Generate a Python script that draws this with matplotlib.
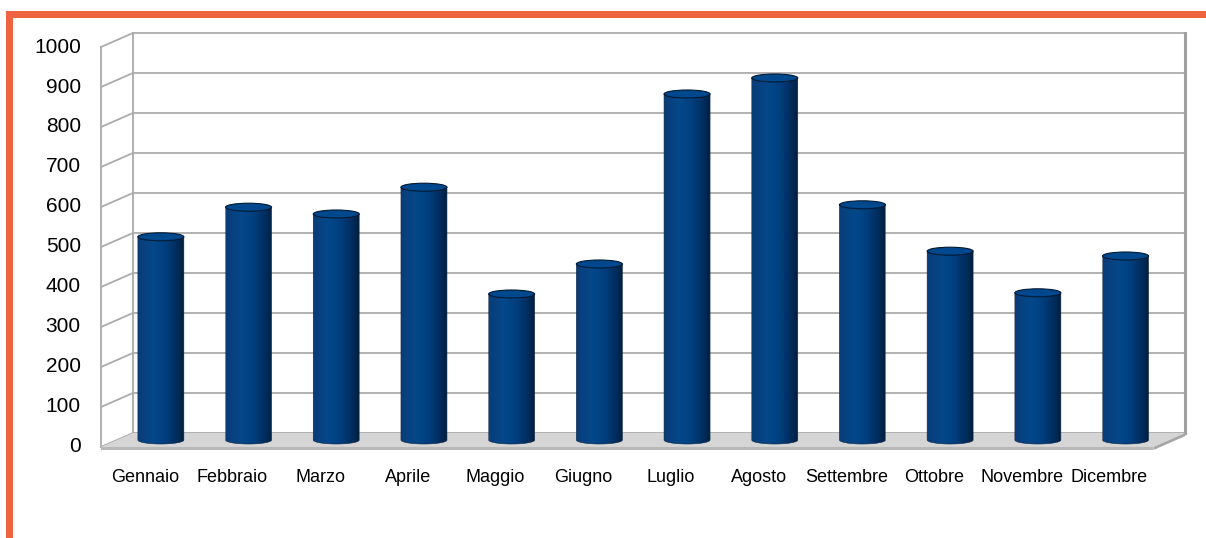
import numpy as np
import matplotlib.pyplot as plt
from matplotlib.patches import Polygon, Ellipse, Rectangle
from matplotlib.colors import LinearSegmentedColormap

mesi = ['Gennaio', 'Febbraio', 'Marzo', 'Aprile', 'Maggio', 'Giugno',
        'Luglio', 'Agosto', 'Settembre', 'Ottobre', 'Novembre', 'Dicembre']
valori = [508, 582, 565, 632, 365, 440, 865, 905, 588, 472, 368, 460]
tick_vals = list(range(0, 1001, 100))

plt.rcParams['font.family'] = ['Liberation Sans', 'DejaVu Sans']

W, H = 1206, 538
fig = plt.figure(figsize=(W / 100, H / 100), dpi=100)
fig.patch.set_facecolor('white')

# orange frame (top and left edge)
arancio = '#EE6440'
fig.add_artist(Rectangle((6 / W, 0), 6.5 / W, (H - 11) / H,
                         transform=fig.transFigure, color=arancio, lw=0))
fig.add_artist(Rectangle((6 / W, (H - 17.5) / H), (W - 6) / W, 6.5 / H,
                         transform=fig.transFigure, color=arancio, lw=0))

n = len(mesi)
px_cat = 87.7
ax = fig.add_axes([101 / W, 91 / H, n * px_cat / W, 400 / H])
ax.set_xlim(0, n)
ax.set_ylim(0, 1000)
ax.axis('off')

# oblique depth offset (data units)
dx = 32 / px_cat
dy = 35

grid_c = '#ABABAB'
for t in tick_vals:
    ax.plot([0, dx], [t, t + dy], color=grid_c, lw=1.3, clip_on=False, zorder=1)
    ax.plot([dx, n + dx], [t + dy, t + dy], color=grid_c, lw=1.3, clip_on=False, zorder=1)
ax.plot([0, 0], [0, 1000], color=grid_c, lw=1.3, clip_on=False, zorder=1)
ax.plot([dx, dx], [dy, 1000 + dy], color=grid_c, lw=1.3, clip_on=False, zorder=1)
ax.plot([n + dx, n + dx], [dy, 1000 + dy], color='#A0A0A0', lw=2.2, clip_on=False, zorder=1)

# floor
lip = 7.5
ax.add_patch(Polygon([(0, 0), (n, 0), (n + dx, dy), (dx, dy)], closed=True,
                     fc='#D5D5D5', ec='none', clip_on=False, zorder=2))
ax.add_patch(Polygon([(0, 0), (n, 0), (n, -lip), (0, -lip)], closed=True,
                     fc='#B8B8B8', ec='none', clip_on=False, zorder=2))
ax.add_patch(Polygon([(n, 0), (n + dx, dy), (n + dx, dy - lip), (n, -lip)], closed=True,
                     fc='#A6A6A6', ec='none', clip_on=False, zorder=2))

# cylinders
cmap = LinearSegmentedColormap.from_list('cil', [
    (0.0, '#0A3D78'), (0.35, '#04488A'), (0.6, '#003F7E'),
    (0.85, '#002C5C'), (1.0, '#00203F')])
grad = np.linspace(0, 1, 256)[None, :]
w = 46 / px_cat
eh = 20
tt = np.linspace(0, np.pi, 40)
for i, v in enumerate(valori):
    xc = i + 0.5 + dx / 2
    y0 = dy / 2
    y1 = v + dy / 2
    pts = [(xc - w / 2, y1), (xc + w / 2, y1)]
    pts += [(xc + w / 2 * np.cos(a), y0 - eh / 2 * np.sin(a)) for a in tt]
    body = Polygon(pts, closed=True, fc='none', ec='#0A2440', lw=0.4, zorder=4)
    ax.add_patch(body)
    im = ax.imshow(grad, extent=[xc - w / 2, xc + w / 2, y0 - eh / 2, y1],
                   aspect='auto', cmap=cmap, interpolation='bilinear', zorder=3)
    im.set_clip_path(body)
    ax.add_patch(Ellipse((xc, y1), w, eh, fc='#00488E', ec='#001A33', lw=0.8, zorder=5))

ax.set_xlim(0, n)
ax.set_ylim(0, 1000)

# labels
for t in tick_vals:
    ax.text(-0.23, t, str(t), ha='right', va='center', fontsize=15, color='black')
for i, m in enumerate(mesi):
    ax.text(i + 0.5, -75, m, ha='center', va='center', fontsize=13, color='black')

fig.savefig('out.png', dpi=100)
